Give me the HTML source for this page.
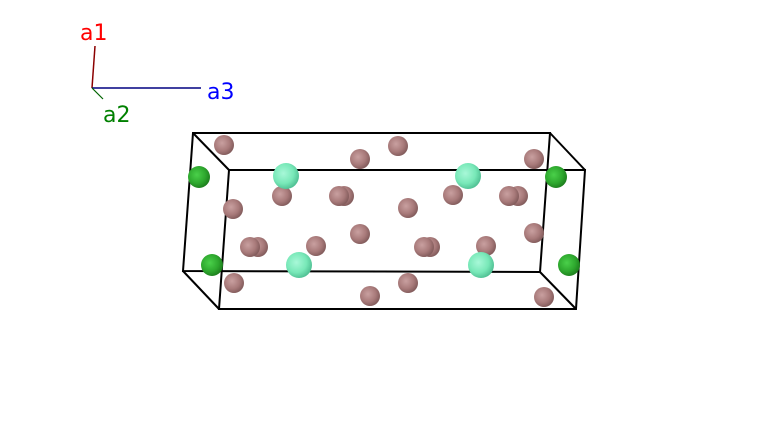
<!DOCTYPE html>
<html><head><style>body{margin:0;background:#fff}svg{display:block}</style></head><body>
<svg width="769" height="443" viewBox="0 0 769 443" xmlns="http://www.w3.org/2000/svg">
<defs>
<radialGradient id="p" cx="0.4" cy="0.4" r="0.65"><stop offset="0" stop-color="#c9a0a0"/><stop offset="0.6" stop-color="#a87a7a"/><stop offset="1" stop-color="#7e5858"/></radialGradient>
<radialGradient id="g" cx="0.4" cy="0.4" r="0.65"><stop offset="0" stop-color="#4ad04a"/><stop offset="0.6" stop-color="#2ea82e"/><stop offset="1" stop-color="#1c7a1c"/></radialGradient>
<radialGradient id="c" cx="0.4" cy="0.4" r="0.65"><stop offset="0" stop-color="#a8f8d8"/><stop offset="0.6" stop-color="#78e8b8"/><stop offset="1" stop-color="#4cbc90"/></radialGradient>
</defs>
<g font-family="DejaVu Sans, sans-serif" font-size="22">
<text x="80" y="40" fill="#ff0000">a1</text>
<text x="207" y="99" fill="#0000ff">a3</text>
<text x="103" y="122" fill="#008000">a2</text>
</g>
<line x1="95" y1="46" x2="92" y2="88" stroke="#8b0000" stroke-width="1.5"/>
<line x1="92" y1="88" x2="201" y2="88" stroke="#000080" stroke-width="1.5"/>
<line x1="92" y1="88" x2="103" y2="99" stroke="#006400" stroke-width="1.2"/>
<g stroke="#000" stroke-width="2" fill="none">
<polygon points="193,133 550,133 540,272 183,271"/>
<polygon points="229,170 585,170 576,309 219,309"/>
<line x1="193" y1="133" x2="229" y2="170"/><line x1="550" y1="133" x2="585" y2="170"/>
<line x1="183" y1="271" x2="219" y2="309"/><line x1="540" y1="272" x2="576" y2="309"/>
</g>
<g fill="url(#p)">
<circle cx="224" cy="145" r="10"/><circle cx="360" cy="159" r="10"/><circle cx="398" cy="146" r="10"/><circle cx="534" cy="159" r="10"/>
<circle cx="233" cy="209" r="10"/><circle cx="282" cy="196" r="10"/><circle cx="344" cy="196" r="10"/><circle cx="339" cy="196" r="10"/>
<circle cx="408" cy="208" r="10"/><circle cx="453" cy="195" r="10"/><circle cx="518" cy="196" r="10"/><circle cx="509" cy="196" r="10"/>
<circle cx="258" cy="247" r="10"/><circle cx="250" cy="247" r="10"/><circle cx="316" cy="246" r="10"/><circle cx="360" cy="234" r="10"/>
<circle cx="430" cy="247" r="10"/><circle cx="424" cy="247" r="10"/><circle cx="486" cy="246" r="10"/><circle cx="534" cy="233" r="10"/>
<circle cx="234" cy="283" r="10"/><circle cx="370" cy="296" r="10"/><circle cx="408" cy="283" r="10"/><circle cx="544" cy="297" r="10"/>
</g>
<g fill="url(#g)">
<circle cx="199" cy="177" r="11"/><circle cx="212" cy="265" r="11"/><circle cx="556" cy="177" r="11"/><circle cx="569" cy="265" r="11"/>
</g>
<g fill="url(#c)">
<circle cx="286" cy="176" r="13"/><circle cx="468" cy="176" r="13"/><circle cx="299" cy="265" r="13"/><circle cx="481" cy="265" r="13"/>
</g>
</svg>
</body></html>
